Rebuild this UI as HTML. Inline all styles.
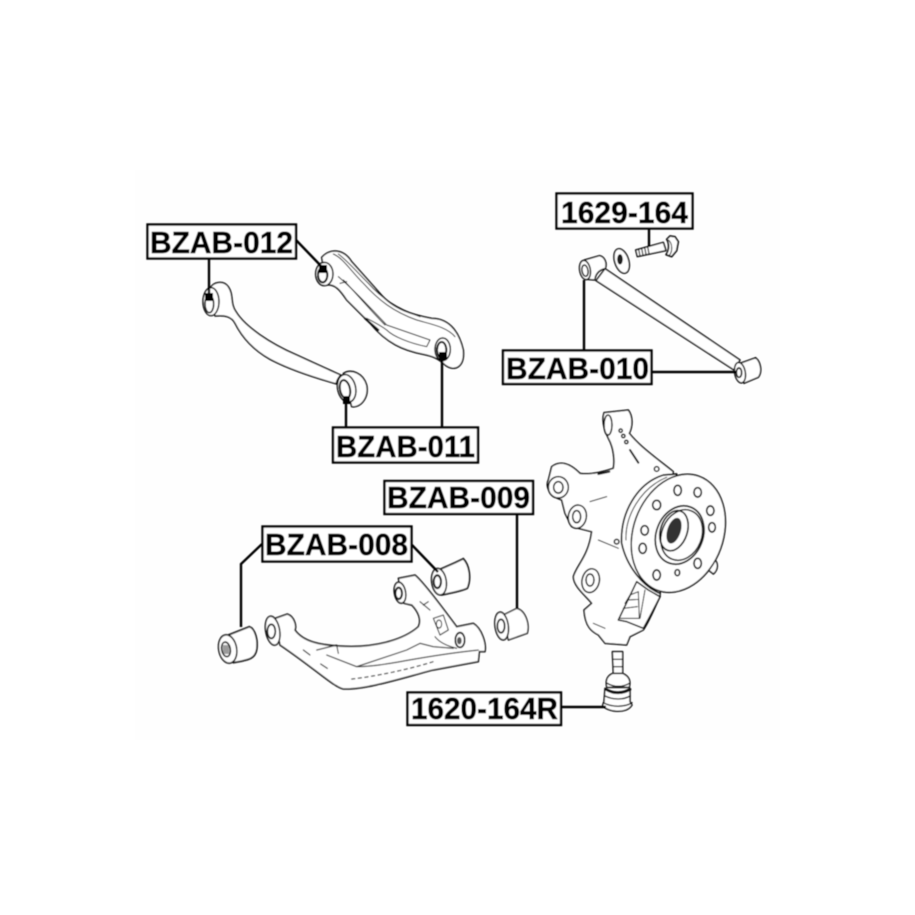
<!DOCTYPE html>
<html><head><meta charset="utf-8"><style>
html,body{margin:0;padding:0;background:#fff}
svg{display:block}
text{font-family:"Liberation Sans",sans-serif;font-weight:bold;fill:#000;stroke:#000;stroke-width:.45px}
</style></head><body>
<svg width="915" height="915" viewBox="0 0 915 915" xmlns="http://www.w3.org/2000/svg">
<defs><filter id="b" x="-5%" y="-5%" width="110%" height="110%"><feGaussianBlur stdDeviation="0.4"/></filter></defs>
<rect width="915" height="915" fill="#fff"/>
<rect x="135" y="170" width="645" height="570" fill="#fefefe"/>
<g filter="url(#b)">
<!-- top-left arms -->
<g transform="translate(130,180) scale(.33333)" fill="none" stroke="#111" stroke-width="4.500" stroke-linecap="round" stroke-linejoin="round">
<path fill="#fff" d="M240,325 C250,305 280,300 295,320 C312,345 300,370 318,395 C345,440 420,490 500,525 C560,552 600,570 632,585 C620,600 618,610 620,612 C560,595 480,570 420,538 C370,510 335,470 315,430 C305,410 285,405 255,408 Z"/>
<ellipse cx="243" cy="365" rx="24" ry="42" fill="#fff"/>
<ellipse cx="238" cy="372" rx="13" ry="26"/>
<path fill="#fff" d="M640,580 C665,565 700,580 710,615 C718,655 690,685 665,680 Z"/>
<ellipse cx="650" cy="625" rx="27" ry="42" fill="#fff" transform="rotate(-12 650 625)"/>
<ellipse cx="645" cy="628" rx="15" ry="28" stroke-width="6" transform="rotate(-12 645 628)"/>
<path fill="#fff" d="M575,232 C600,205 640,205 665,245 L750,340 C790,388 850,405 905,415 C950,415 985,445 1000,510 C1005,560 975,578 945,555 C925,535 905,528 880,523 C820,512 770,490 720,430 L650,360 C630,330 615,312 590,315 Z"/>
<ellipse cx="583" cy="282" rx="26" ry="35" fill="#fff"/>
<ellipse cx="578" cy="285" rx="14" ry="22" stroke-width="6"/>
<path stroke-width="3" d="M610,222 C640,235 660,270 700,310 C745,360 790,395 860,420 C900,432 950,440 975,470"/>
<path stroke-width="3" d="M625,222 C655,245 675,270 715,310 C755,355 800,385 870,410"/>
<path stroke-width="3" d="M625,290 C660,320 690,350 770,435 L900,480 L890,500 C840,490 790,470 770,450 C750,435 730,425 710,415"/>
<path stroke-width="3" d="M640,300 C670,330 720,390 765,435"/>
<path stroke-width="3" d="M630,310 L650,305"/>
<ellipse cx="938" cy="508" rx="23" ry="34" fill="#fff"/>
<ellipse cx="935" cy="510" rx="14" ry="24" stroke-width="6"/>
<path stroke-width="6" d="M705,415 L745,450"/>
</g>
<!-- top-right rod -->
<g transform="translate(490,180) scale(.33333)" fill="none" stroke="#111" stroke-width="4.500" stroke-linecap="round" stroke-linejoin="round">
<path fill="#fff" d="M345,266 L750,540 L732,570 L318,302 Z"/>
<path fill="#fff" d="M283,240 L328,227 C345,230 352,250 346,266 C325,270 315,285 315,300 L290,298 Z"/>
<ellipse cx="285" cy="270" rx="16" ry="29" fill="#fff" transform="rotate(-10 285 270)"/>
<ellipse cx="285" cy="272" rx="9" ry="17" transform="rotate(-10 285 272)"/>
<path fill="#fff" d="M750,550 L797,533 C812,545 818,575 805,592 L762,610 Z"/>
<ellipse cx="750" cy="578" rx="16" ry="31" fill="#fff" transform="rotate(-10 750 578)"/>
<ellipse cx="747" cy="578" rx="8" ry="14" stroke-width="5"/>
<ellipse cx="395" cy="243" rx="21" ry="38" fill="#fff" transform="rotate(-18 395 243)"/>
<ellipse cx="390" cy="238" rx="6" ry="13" fill="#222"/>
<path fill="#fff" d="M437,210 L520,187 L528,212 L442,230 Z"/>
<path stroke-width="3.500" d="M446,208 L450,228 M455,205 L459,226 M464,202 L468,223 M473,200 L477,221"/>
<path fill="#fff" stroke-width="5" d="M530,178 L540,168 L555,170 L565,185 L560,212 L545,230 L528,224 C538,210 538,190 530,178 Z"/>
<path stroke-width="3" d="M535,180 C548,190 548,215 538,226"/>
</g>
<!-- lower arm -->
<g transform="translate(200,480) scale(.33333)" fill="none" stroke="#111" stroke-width="4.500" stroke-linecap="round" stroke-linejoin="round">
<path fill="#fff" stroke-width="5" d="M85,465 L148,440 C165,445 175,480 170,510 C165,535 150,540 100,548 Z"/>
<ellipse cx="83" cy="507" rx="27" ry="43" fill="#fff" transform="rotate(-10 83 507)"/>
<ellipse cx="78" cy="508" rx="13" ry="22" transform="rotate(-10 78 508)"/>
<path fill="#222" stroke="none" d="M68,495 L88,495 L88,522 L68,522Z" opacity=".45"/>
<path fill="#fff" stroke-width="5" d="M720,268 L765,248 L790,236 C808,255 815,295 802,325 C780,335 750,340 725,345 Z"/>
<ellipse cx="717" cy="305" rx="22" ry="40" fill="#fff" transform="rotate(-8 717 305)"/>
<ellipse cx="712" cy="305" rx="11" ry="19" stroke-width="6"/>
<path fill="#fff" stroke-width="4" d="M910,405 L950,385 C975,390 990,430 982,460 L925,480 Z"/>
<ellipse cx="905" cy="438" rx="20" ry="42" fill="#fff" transform="rotate(-8 905 438)"/>
<ellipse cx="903" cy="438" rx="11" ry="20" stroke-width="5"/>
<path fill="#fff" d="M225,415 L262,402 C285,410 290,440 285,450 C310,485 360,495 420,498 C520,505 610,480 655,440 C665,420 655,395 635,375 C620,372 605,370 610,365 L595,295 L645,285 C675,310 740,400 770,440 L820,430 C845,445 860,490 855,515 L838,515 L835,545 L700,570 C620,590 500,630 430,627 C400,620 350,570 240,495 Z"/>
<ellipse cx="218" cy="452" rx="21" ry="44" fill="#fff" transform="rotate(-10 218 452)"/>
<ellipse cx="214" cy="454" rx="12" ry="21" stroke-width="5"/>
<ellipse cx="600" cy="338" rx="17" ry="32" fill="#fff" transform="rotate(-10 600 338)"/>
<ellipse cx="596" cy="340" rx="10" ry="17" stroke-width="6"/>
<path stroke-width="3" d="M350,510 L410,495 L415,520 M380,525 L470,560 L620,510 L660,490 L700,500 L760,505 M470,560 C560,560 640,530 835,510"/>
<path stroke-width="3" d="M700,415 L730,405 L745,450 L720,465 Z M705,470 C720,490 750,500 770,505"/>
<ellipse cx="717" cy="432" rx="8" ry="12" stroke-width="3"/>
<path stroke-width="3" stroke-dasharray="10 10" d="M455,597 C520,590 620,570 700,545"/>
<path stroke-width="3" d="M310,510 L330,525 M362,552 L382,565 M660,365 L690,390 M670,375 L685,365"/>
<ellipse cx="780" cy="480" rx="14" ry="22" fill="#fff" stroke-width="5"/>
<ellipse cx="778" cy="482" rx="7" ry="11" fill="#222" stroke="none" opacity=".75"/>
</g>
<!-- knuckle and ball joint -->
<g transform="translate(530,400) scale(.33333)" fill="none" stroke="#111" stroke-width="4.500" stroke-linecap="round" stroke-linejoin="round">
<path fill="#fff" d="M222,38 L295,30 C310,50 308,80 298,100 C330,140 380,175 430,215 L400,340 L390,590 C375,620 360,660 340,690 L300,710 L290,735 L225,730 L205,705 C185,695 165,680 162,630 L185,610 C170,590 130,560 130,530 C140,495 175,470 185,395 L125,380 L105,340 L95,300 C60,290 45,260 55,240 L65,200 C90,180 120,190 150,220 C180,225 220,215 250,205 C255,180 250,140 235,115 C220,85 215,60 222,38 Z"/>
<ellipse cx="234" cy="75" rx="12" ry="30" fill="#fff"/>
<ellipse cx="85" cy="262" rx="30" ry="32" fill="#fff"/>
<ellipse cx="85" cy="262" rx="14" ry="17"/>
<ellipse cx="142" cy="350" rx="27" ry="35" fill="#fff" transform="rotate(10 142 350)"/>
<ellipse cx="140" cy="350" rx="12" ry="18"/>
<ellipse cx="182" cy="542" rx="26" ry="36" fill="#fff" transform="rotate(12 182 542)"/>
<ellipse cx="180" cy="540" rx="12" ry="18"/>
<path stroke-width="6" d="M205,222 L238,215"/>
<path stroke-width="3" d="M180,305 L230,290 M205,420 L265,445 M190,670 L225,685"/>
<circle cx="272" cy="92" r="5"/><circle cx="280" cy="108" r="5"/><circle cx="289" cy="126" r="5"/>
<path stroke-width="6" d="M300,150 L325,188"/>
<circle cx="380" cy="207" r="7"/><circle cx="260" cy="425" r="7"/>
<path fill="#fff" d="M265,660 L320,545 L355,570 L390,590 C375,620 360,650 340,685 L290,665 Z"/>
<path stroke-width="3" d="M285,610 L300,585 L325,575 L328,655 L268,655 M280,625 L322,620 M295,600 L325,598 M345,570 L330,655"/>
<path fill="#fff" stroke-width="5" d="M275,430 C270,340 320,250 400,225 L440,222 L390,580 C340,560 290,500 275,430 Z"/>
<path stroke-width="3" d="M288,420 C285,350 330,265 410,232"/>
<path fill="#fff" d="M555,480 C565,490 565,510 550,522 L535,510 Z"/>
<ellipse cx="445" cy="400" rx="135" ry="182" fill="#fff" transform="rotate(20 445 400)"/>
<ellipse cx="449" cy="405" rx="70" ry="90" fill="#fff" stroke-width="5" transform="rotate(22 449 405)"/>
<ellipse cx="455" cy="405" rx="60" ry="78" transform="rotate(22 455 405)"/>
<ellipse cx="432" cy="392" rx="40" ry="62" stroke-width="5" transform="rotate(18 432 392)"/>
<ellipse cx="432" cy="392" rx="20" ry="40" fill="#333" stroke="none" transform="rotate(18 432 392)"/>
<g stroke-width="5" fill="#fff">
<ellipse cx="443" cy="271" rx="11" ry="15"/><ellipse cx="503" cy="277" rx="11" ry="14"/><ellipse cx="541" cy="332" rx="11" ry="14"/><ellipse cx="546" cy="382" rx="10" ry="14"/><ellipse cx="503" cy="490" rx="11" ry="15"/><ellipse cx="442" cy="518" rx="7" ry="9"/><ellipse cx="380" cy="525" rx="11" ry="15"/><ellipse cx="338" cy="445" rx="11" ry="15"/><ellipse cx="344" cy="391" rx="11" ry="14"/><ellipse cx="380" cy="315" rx="12" ry="14"/>
</g>
<!-- ball joint -->
<path fill="#fff" d="M247,755 L278,755 L278,820 L250,820 Z"/>
<path stroke-width="3.500" d="M248,778 L278,778 M250,800 L278,800"/>
<path fill="#fff" d="M248,820 C225,830 228,850 230,862 L298,862 C302,845 300,830 278,820 Z"/>
<path fill="#fff" d="M225,865 L222,905 L218,915 C225,935 290,945 306,915 L300,905 L300,865 C280,880 245,880 225,865 Z"/>
<path stroke-width="8" d="M228,868 C250,882 280,882 300,868"/>
<path stroke-width="4" d="M232,850 C250,862 280,862 298,850 M225,888 C250,900 280,900 300,888 M220,908 C245,922 285,922 306,908"/>
</g>
<!-- leaders -->
<g fill="none" stroke="#000" stroke-width="2.400">
<path d="M209,259 V295"/>
<path d="M296,240 L322,267"/>
<path d="M346,400 V427"/>
<path d="M442,355 V427"/>
<path d="M649,229 V246"/>
<path d="M584,280 V350"/>
<path d="M652,372 H736"/>
<path d="M517,514 V608"/>
<path d="M262,544 L241,564 V627"/>
<path d="M412,545 L438,572"/>
<path d="M561,707 H606"/>
</g>
<g fill="#000">
<rect x="205" y="293" width="8" height="8"/>
<rect x="319" y="265" width="8" height="8"/>
<rect x="343" y="396" width="7" height="8"/>
<rect x="439" y="352" width="8" height="8"/>
</g>
<!-- label boxes -->
<g fill="#fff" stroke="#000" stroke-width="2.400">
<rect x="147.500" y="224.500" width="148.500" height="34"/>
<rect x="333" y="427.500" width="145" height="35"/>
<rect x="556.500" y="193.500" width="136" height="35"/>
<rect x="503" y="350.500" width="148.500" height="33.500"/>
<rect x="384.500" y="481" width="148.500" height="33"/>
<rect x="262.500" y="526.500" width="149" height="35"/>
<rect x="407.500" y="692.500" width="153.500" height="32.500"/>
</g>
<g font-size="31">
<text x="150" y="253" textLength="143" lengthAdjust="spacingAndGlyphs">BZAB-012</text>
<text x="336" y="457" textLength="139" lengthAdjust="spacingAndGlyphs">BZAB-011</text>
<text x="561" y="223" textLength="127" lengthAdjust="spacingAndGlyphs">1629-164</text>
<text x="506" y="379" textLength="143" lengthAdjust="spacingAndGlyphs">BZAB-010</text>
<text x="387" y="508" textLength="143" lengthAdjust="spacingAndGlyphs">BZAB-009</text>
<text x="265" y="555" textLength="143" lengthAdjust="spacingAndGlyphs">BZAB-008</text>
<text x="411" y="719" textLength="147" lengthAdjust="spacingAndGlyphs">1620-164R</text>
</g>
</g>
</svg>
</body></html>
